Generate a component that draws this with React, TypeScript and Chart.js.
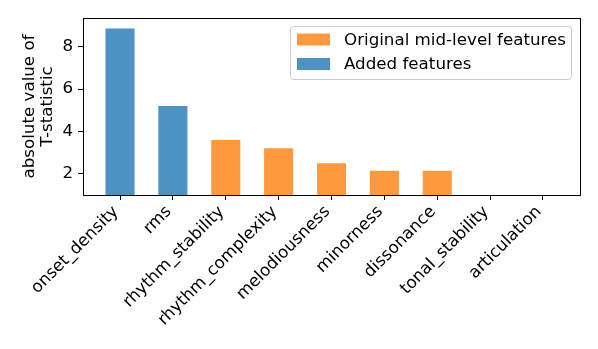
import React, { useEffect, useRef } from "react";
import { Chart, registerables } from "chart.js";
Chart.register(...registerables);

const categories = [
  "onset_density",
  "rms",
  "rhythm_stability",
  "rhythm_complexity",
  "melodiousness",
  "minorness",
  "dissonance",
  "tonal_stability",
  "articulation",
];
const tValues = [8.85, 5.2, 3.6, 3.21, 2.5, 2.14, 2.14, 0.9, 0.6];
const isAdded = [true, true, false, false, false, false, false, false, false];
const seriesLabels = ["Original mid-level features", "Added features"];
const seriesColors = ["#ff993e", "#4c92c3"];
const yTicks = [2, 4, 6, 8];
const yLabel = ["absolute value of", "T-statistic"];

const FONT = "'DejaVu Sans', sans-serif";
const FS = 16.7;

const framePlugin = {
  id: "frame",
  afterDraw(chart: any) {
    const { ctx, chartArea } = chart;
    ctx.save();
    ctx.strokeStyle = "#000";
    ctx.lineWidth = 1;
    ctx.strokeRect(
      Math.round(chartArea.left) + 0.5,
      Math.round(chartArea.top) + 0.5,
      Math.round(chartArea.right - chartArea.left),
      Math.round(chartArea.bottom - chartArea.top)
    );
    const boxX = 290, boxY = 26, boxW = 281, boxH = 53;
    ctx.fillStyle = "rgba(255,255,255,0.8)";
    ctx.strokeStyle = "#cccccc";
    ctx.beginPath();
    (ctx as any).roundRect(boxX + 0.5, boxY + 0.5, boxW, boxH, 3);
    ctx.fill();
    ctx.stroke();
    ctx.font = `${FS}px ${FONT}`;
    ctx.textBaseline = "middle";
    ctx.textAlign = "left";
    chart.data.datasets.forEach((ds: any, i: number) => {
      const cy = 39.5 + i * 24.5;
      ctx.fillStyle = ds.backgroundColor;
      ctx.fillRect(297, cy - 6, 33, 12);
      ctx.fillStyle = "#000";
      ctx.fillText(ds.label, 344, cy + 1);
    });
    ctx.restore();
  },
};

export default function App() {
  const ref = useRef<HTMLCanvasElement | null>(null);
  useEffect(() => {
    if (!ref.current) return;
    const orig: any[] = [];
    const added: any[] = [];
    categories.forEach((_, i) => {
      (isAdded[i] ? added : orig).push({ x: i, y: tValues[i] });
    });
    const chart = new Chart(ref.current, {
      type: "bar",
      data: {
        datasets: [
          { label: seriesLabels[0], data: orig, backgroundColor: seriesColors[0] },
          { label: seriesLabels[1], data: added, backgroundColor: seriesColors[1] },
        ],
      },
      options: {
        animation: false,
        responsive: false,
        maintainAspectRatio: false,
        grouped: false,
        barPercentage: 0.55,
        categoryPercentage: 1,
        layout: { padding: { top: 18, right: 18, left: 0, bottom: 0 } },
        plugins: { legend: { display: false }, tooltip: { enabled: false } },
        scales: {
          x: {
            type: "linear",
            min: -0.7,
            max: 8.7,
            offset: false,
            afterBuildTicks: (s: any) => {
              s.ticks = categories.map((_, i) => ({ value: i }));
            },
            afterFit: (s: any) => {
              s.height = 154;
            },
            grid: {
              offset: false,
              drawOnChartArea: false,
              drawTicks: true,
              tickLength: 5,
              color: "#000",
            },
            border: { display: true, color: "#000" },
            ticks: {
              autoSkip: false,
              minRotation: 45,
              maxRotation: 45,
              padding: 2,
              labelOffset: -4,
              color: "#000",
              font: { family: FONT, size: FS },
              callback: (v: any) => categories[v as number] ?? "",
            },
          },
          y: {
            min: 1,
            max: 9.35,
            afterBuildTicks: (s: any) => {
              s.ticks = yTicks.map((v) => ({ value: v }));
            },
            afterFit: (s: any) => {
              s.width = 83;
            },
            grid: {
              drawOnChartArea: false,
              drawTicks: true,
              tickLength: 5,
              color: "#000",
            },
            border: { display: true, color: "#000" },
            ticks: {
              padding: 5,
              color: "#000",
              font: { family: FONT, size: FS },
            },
            title: {
              display: true,
              text: yLabel,
              color: "#000",
              font: { family: FONT, size: FS, lineHeight: 1.05 },
              padding: { top: 21, bottom: 0 },
            },
          },
        },
      } as any,
      plugins: [framePlugin],
    });
    return () => chart.destroy();
  }, []);
  return (
    <div style={{ position: "fixed", left: 0, top: 0, width: 598, height: 349, background: "#fff" }}>
      <canvas ref={ref} width={598} height={349} style={{ width: 598, height: 349 }} />
    </div>
  );
}
